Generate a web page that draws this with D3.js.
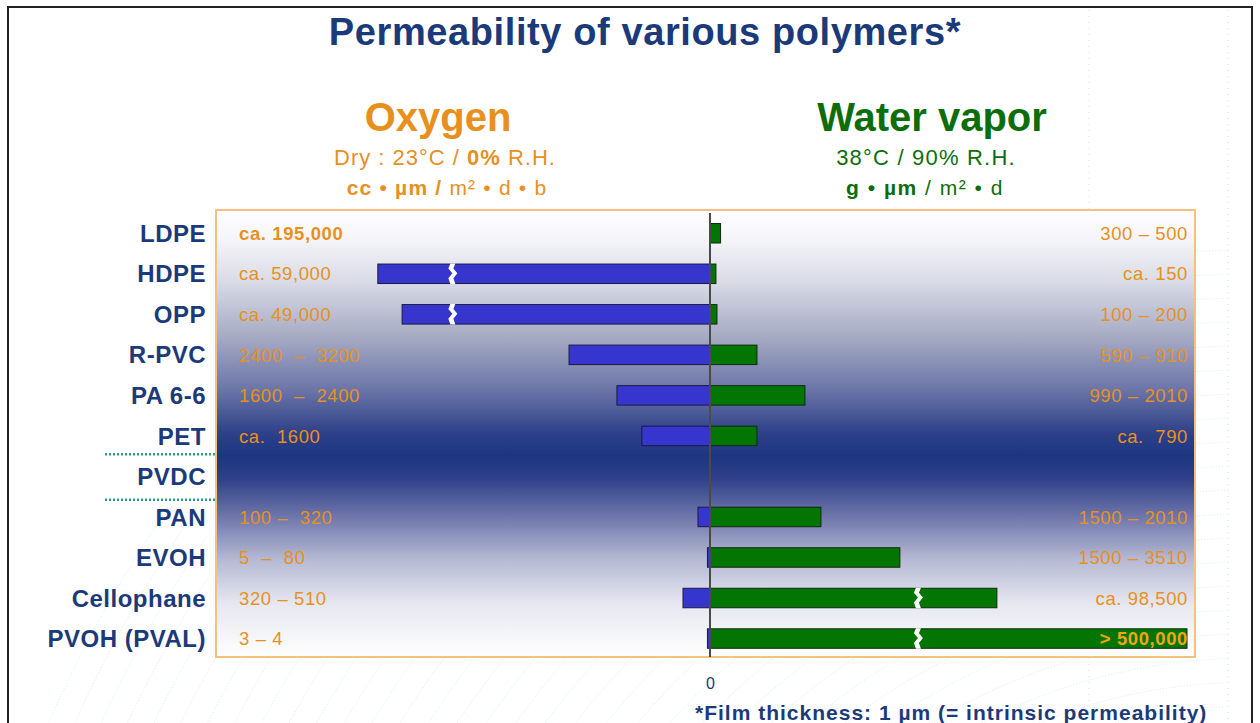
<!DOCTYPE html>
<html>
<head>
<meta charset="utf-8">
<script src="https://cdn.jsdelivr.net/npm/d3@7"></script>
<style>
  body { margin: 0; background: #fff; }
  svg { display: block; font-family: "Liberation Sans", Arial, sans-serif; }
</style>
</head>
<body>
<svg class="chart" width="1260" height="723"></svg>
<script>
// polymers, top to bottom
let polymers = ["LDPE", "HDPE", "OPP", "R-PVC", "PA 6-6", "PET", "PVDC", "PAN", "EVOH", "Cellophane", "PVOH (PVAL)"];

// drawn bar lengths (chart units); null = no bar
let oxygenBars = [null, 7800, 7230, 3310, 2185, 1600, null, 282, 60, 634, 60];
let waterBars  = [205, 115, 135, 910, 1840, 910, null, 2150, 3680, 5560, 9245];

// bars that are drawn with a break mark
let oxygenBroken = [false, true, true, false, false, false, false, false, false, false, false];
let waterBroken  = [false, false, false, false, false, false, false, false, false, true, true];
let oxygenBreakAt = 6050;
let waterBreakAt = 4030;

// value labels
let oxygenLabels = ["ca. 195,000", "ca. 59,000", "ca. 49,000", "2400  \u2013  3200", "1600  \u2013  2400", "ca.  1600", "", "100 \u2013  320", "5  \u2013  80", "320 \u2013 510", "3 \u2013 4"];
let waterLabels  = ["300 \u2013 500", "ca. 150", "100 \u2013 200", "590 \u2013 910", "990 \u2013 2010", "ca.  790", "", "1500 \u2013 2010", "1500 \u2013 3510", "ca. 98,500", "> 500,000"];
let oxygenBold = [true, false, false, false, false, false, false, false, false, false, false];
let waterBold  = [false, false, false, false, false, false, false, false, false, false, true];

let zeroTick = [0];

let navy = "#1b3a7a";
let orange = "#e8901e";
let green = "#0b6e0b";

let svg = d3.select("svg.chart");
let defs = svg.append("defs");

// background gradient of the plot box
let grad = defs.append("linearGradient").attr("id", "bg").attr("x1", 0).attr("x2", 0).attr("y1", 0).attr("y2", 1);
[[0, "#ffffff"], [0.06, "#f6f6fa"], [0.16, "#d9dbe6"], [0.28, "#a8acc4"], [0.40, "#6c76a8"],
 [0.50, "#2d4088"], [0.55, "#1d3683"], [0.60, "#2f3f88"], [0.68, "#6a72a8"], [0.78, "#b4b8d2"],
 [0.88, "#e6e7f0"], [1, "#ffffff"]].forEach(s => {
  grad.append("stop").attr("offset", s[0]).attr("stop-color", s[1]);
});

let box = { left: 216, right: 1195, top: 210, bottom: 657 };
let zeroX = 710;

// faint wavy background lines
let waves = svg.append("g").attr("opacity", 0.7);
defs.append("clipPath").attr("id", "waveclip").append("rect")
  .attr("x", 35).attr("y", 250).attr("width", 1190).attr("height", 480);
waves.attr("clip-path", "url(#waveclip)");
d3.range(0, 34).forEach(i => {
  waves.append("circle")
    .attr("cx", 1250).attr("cy", 1250)
    .attr("r", 520 + i * 24)
    .attr("fill", "none")
    .attr("stroke", i % 2 ? "#bfe2ec" : "#e6cce6")
    .attr("stroke-width", 0.9)
    .attr("stroke-dasharray", "1 2");
});

// faint dotted verticals
[1089, 1228].forEach(x => {
  svg.append("line").attr("x1", x).attr("x2", x).attr("y1", 10).attr("y2", 723)
    .attr("stroke", "#e2d8e2").attr("stroke-width", 1).attr("stroke-dasharray", "1 5");
});

// outer frame
svg.append("rect").attr("x", 8).attr("y", 7).attr("width", 1244).attr("height", 740)
  .attr("fill", "none").attr("stroke", "#222").attr("stroke-width", 2);

// plot box
svg.append("rect")
  .attr("x", box.left).attr("y", box.top)
  .attr("width", box.right - box.left).attr("height", box.bottom - box.top)
  .attr("fill", "url(#bg)")
  .attr("stroke", "#f5c27e").attr("stroke-width", 2);

// scales
let y = d3.scaleBand().domain(polymers).range([213, 658.8]);
let xO = d3.scaleLinear().domain([0, 11600]).range([zeroX, box.left]);
let xW = d3.scaleLinear().domain([0, 9400]).range([zeroX, box.right]);
let barH = 19.5;

let rows = polymers.map((p, i) => ({
  name: p, o: oxygenBars[i], w: waterBars[i],
  ob: oxygenBroken[i], wb: waterBroken[i],
  ol: oxygenLabels[i], wl: waterLabels[i],
  olb: oxygenBold[i], wlb: waterBold[i]
}));
let cy = d => y(d.name) + y.bandwidth() / 2;

let plot = svg.append("g").attr("id", "plot");

// oxygen bars (left)
plot.selectAll(".obar").data(rows.filter(d => d.o != null)).join("rect")
  .attr("class", "obar")
  .attr("x", d => xO(d.o)).attr("y", d => cy(d) - barH / 2)
  .attr("width", d => xO(0) - xO(d.o)).attr("height", barH)
  .attr("fill", "#3636cf").attr("stroke", "#1a1a40").attr("stroke-width", 1);

// water bars (right)
plot.selectAll(".wbar").data(rows.filter(d => d.w != null)).join("rect")
  .attr("class", "wbar")
  .attr("x", xW(0)).attr("y", d => cy(d) - barH / 2)
  .attr("width", d => xW(d.w) - xW(0)).attr("height", barH)
  .attr("fill", "#037503").attr("stroke", "#0e2a0e").attr("stroke-width", 1);

// break marks
function breakPath(x, c) {
  let t = c - barH / 2 - 0.5, b = c + barH / 2 + 0.5, h = barH / 4;
  let pts = [[x - 2, t], [x + 3, t], [x + 1, t + h], [x + 5, t + 2 * h], [x + 1, t + 3 * h], [x + 3, b],
             [x - 2, b], [x - 4, t + 3 * h], [x, t + 2 * h], [x - 4, t + h]];
  return "M" + pts.map(p => p.join(",")).join("L") + "Z";
}
plot.selectAll(".obreak").data(rows.filter(d => d.ob)).join("path")
  .attr("d", d => breakPath(xO(oxygenBreakAt), cy(d))).attr("fill", "#fff");
plot.selectAll(".wbreak").data(rows.filter(d => d.wb)).join("path")
  .attr("d", d => breakPath(xW(waterBreakAt), cy(d))).attr("fill", "#fff");

// zero line
plot.append("line").attr("x1", zeroX).attr("x2", zeroX).attr("y1", 213).attr("y2", box.bottom)
  .attr("stroke", "#4a4a4a").attr("stroke-width", 2);

// zero tick label via axis
let xAxis = d3.axisBottom(xW).tickValues(zeroTick).tickSize(0).tickPadding(21).tickFormat(d3.format("d"));
let xGroup = svg.append("g").attr("transform", "translate(0," + box.bottom + ")").call(xAxis);
xGroup.select(".domain").remove();
xGroup.selectAll("text").attr("fill", navy).style("font-size", "16px").style("font-family", "Liberation Sans, Arial, sans-serif");

// polymer labels via axis
let yAxis = d3.axisLeft(y).tickSize(0).tickPadding(10);
let yGroup = svg.append("g").attr("transform", "translate(" + box.left + ",0)").call(yAxis);
yGroup.select(".domain").remove();
yGroup.selectAll("text")
  .attr("fill", navy)
  .attr("dy", "0.36em")
  .style("font-size", "24px").style("font-weight", "bold").style("letter-spacing", "0.5px")
  .style("font-family", "Liberation Sans, Arial, sans-serif");

// dotted lines around PVDC
["top", "bottom"].forEach(k => {
  let yy = k === "top" ? y("PVDC") - 2 : y("PVDC") + y.bandwidth() + 3;
  svg.append("line").attr("x1", 105).attr("x2", 216).attr("y1", yy).attr("y2", yy)
    .attr("stroke", "#2a9d93").attr("stroke-width", 2.5).attr("stroke-dasharray", "2 2");
});

// value labels
plot.selectAll(".olab").data(rows).join("text")
  .attr("x", 239).attr("y", cy).attr("dy", "0.36em")
  .attr("fill", orange)
  .style("font-size", "18.5px").style("letter-spacing", "0.6px")
  .style("font-weight", d => d.olb ? "bold" : "normal")
  .style("white-space", "pre")
  .text(d => d.ol);
plot.selectAll(".wlab").data(rows).join("text")
  .attr("x", 1188).attr("y", cy).attr("dy", "0.36em")
  .attr("text-anchor", "end")
  .attr("fill", d => d.wlb ? "#f2a512" : orange)
  .style("font-size", "18.5px").style("letter-spacing", "0.6px")
  .style("font-weight", d => d.wlb ? "bold" : "normal")
  .style("white-space", "pre")
  .text(d => d.wl);

// titles
svg.append("text").attr("x", 645).attr("y", 45).attr("text-anchor", "middle")
  .attr("fill", navy).style("font-size", "38px").style("font-weight", "bold").style("letter-spacing", "0.6px")
  .text("Permeability of various polymers*");

svg.append("text").attr("x", 438).attr("y", 131).attr("text-anchor", "middle")
  .attr("fill", orange).style("font-size", "40px").style("font-weight", "bold").text("Oxygen");
let o1 = svg.append("text").attr("x", 445).attr("y", 165).attr("text-anchor", "middle")
  .attr("fill", orange).style("font-size", "22px").style("letter-spacing", "1px");
o1.append("tspan").text("Dry : 23°C / ");
o1.append("tspan").style("font-weight", "bold").text("0%");
o1.append("tspan").text(" R.H.");
let o2 = svg.append("text").attr("x", 447).attr("y", 195).attr("text-anchor", "middle")
  .attr("fill", orange).style("font-size", "21px").style("letter-spacing", "1.2px");
o2.append("tspan").style("font-weight", "bold").text("cc \u2022 µm / ");
o2.append("tspan").text("m² \u2022 d \u2022 b");

svg.append("text").attr("x", 932).attr("y", 131).attr("text-anchor", "middle")
  .attr("fill", green).style("font-size", "40px").style("font-weight", "bold").text("Water vapor");
svg.append("text").attr("x", 926).attr("y", 165).attr("text-anchor", "middle")
  .attr("fill", green).style("font-size", "22px").style("letter-spacing", "1.2px").text("38°C / 90% R.H.");
let w2 = svg.append("text").attr("x", 925).attr("y", 195).attr("text-anchor", "middle")
  .attr("fill", green).style("font-size", "21px").style("letter-spacing", "1.5px");
w2.append("tspan").style("font-weight", "bold").text("g \u2022 µm");
w2.append("tspan").text(" / m² \u2022 d");

// footnote
svg.append("text").attr("x", 695).attr("y", 720)
  .attr("fill", navy).style("font-size", "21px").style("font-weight", "bold").style("letter-spacing", "1px")
  .text("*Film thickness: 1 µm (= intrinsic permeability)");
</script>
</body>
</html>
